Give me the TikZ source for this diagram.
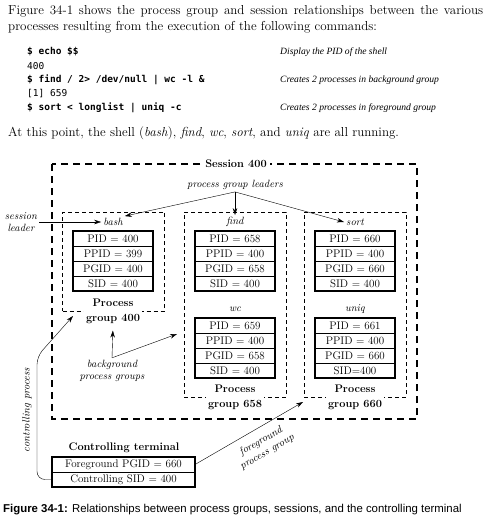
\documentclass[tikz,border=0pt]{standalone}
\usepackage{fontspec}
\usepackage{tikz}
\usetikzlibrary{positioning,arrows.meta}
\newfontfamily\cmdfont{DejaVu Sans Mono}
\newfontfamily\capfont{Liberation Sans}
\newfontfamily\notefont{Liberation Serif}

\begin{document}
\begin{tikzpicture}[x=1pt,y=-1pt,
	>={Stealth[length=7pt,width=4.5pt]},
	txt/.style={anchor=west,inner sep=0,font=\fontsize{13}{15}\selectfont},
	cmd/.style={anchor=west,inner sep=0,font=\cmdfont\bfseries\fontsize{9.5}{11}\selectfont},
	shellout/.style={anchor=west,inner sep=0,font=\cmdfont\fontsize{9.5}{11}\selectfont},
	note/.style={anchor=west,inner sep=0,font=\notefont\itshape\fontsize{9.6}{12}\selectfont},
	session/.style={draw,line width=1.2,dash pattern=on 7pt off 5pt},
	group/.style={draw,line width=0.9,dash pattern=on 4pt off 3pt,minimum width=102,inner sep=0},
	cell/.style={draw,line width=0.7,minimum width=80,minimum height=15,inner sep=0,outer sep=0,font=\fontsize{11}{13}\selectfont},
	frame/.style={line width=1.3},
	lbl/.style={font=\itshape\fontsize{10.5}{12.5}\selectfont,align=center,inner sep=2},
	grplabel/.style={fill=white,align=center,font=\bfseries\fontsize{11}{15}\selectfont,inner sep=2}]

	\fill[white] (0,0) rectangle (491,522);

	% text above the figure

	\node[txt] (intro1) at (8,11) {\makebox[475pt][s]{Figure 34-1 shows the process group and session relationships between the various}};
	\node[txt] (intro2) at (8,27) {processes resulting from the execution of the following commands:};
	\node[cmd] (cmd1) at (27,52) {\$ echo \$\$};
	\node[shellout] (cmd2) at (27,66) {400};
	\node[cmd] (cmd3) at (27,80) {\$ find / 2> /dev/null | wc -l \&};
	\node[shellout] (cmd4) at (27,94) {[1] 659};
	\node[cmd] (cmd5) at (27,108) {\$ sort < longlist | uniq -c};
	\node[note] (note1) at (280,52) {Display the PID of the shell};
	\node[note] (note3) at (280,80) {Creates 2 processes in background group};
	\node[note] (note5) at (280,108) {Creates 2 processes in foreground group};
	\node[txt] (intro3) at (8,133) {At this point, the shell (\textit{bash}), \textit{find}, \textit{wc}, \textit{sort}, and \textit{uniq} are all running.};

	% session and process groups

	\draw[session] (52,164) rectangle (417,419);
	\node[fill=white,font=\bfseries\fontsize{11}{13}\selectfont] (sess) at (236,164) {Session 400};

	\node[group,minimum height=99] (grp400) at (113.5,261.5) {};
	\node[group,minimum height=185] (grp658) at (235,304.5) {};
	\node[group,minimum height=185] (grp660) at (355,304.5) {};
	\node[grplabel] (pg400) at (113,311) {Process\\group 400};
	\node[grplabel] (pg658) at (235,397) {Process\\group 658};
	\node[grplabel] (pg660) at (355,397) {Process\\group 660};

	% processes

	\node[lbl] (bash) at (113,222) {bash};
	\node[cell] (bash1) at (113,238.5) {PID = 400};
	\node[cell,below=0pt of bash1] (bash2) {PPID = 399};
	\node[cell,below=0pt of bash2] (bash3) {PGID = 400};
	\node[cell,below=0pt of bash3] (bash4) {SID = 400};
	\draw[frame] (bash1.north west) rectangle (bash4.south east);

	\node[lbl] (find) at (235,222) {find};
	\node[cell] (find1) at (235,238.5) {PID = 658};
	\node[cell,below=0pt of find1] (find2) {PPID = 400};
	\node[cell,below=0pt of find2] (find3) {PGID = 658};
	\node[cell,below=0pt of find3] (find4) {SID = 400};
	\draw[frame] (find1.north west) rectangle (find4.south east);

	\node[lbl] (wc) at (235,309) {wc};
	\node[cell] (wc1) at (235,325.5) {PID = 659};
	\node[cell,below=0pt of wc1] (wc2) {PPID = 400};
	\node[cell,below=0pt of wc2] (wc3) {PGID = 658};
	\node[cell,below=0pt of wc3] (wc4) {SID = 400};
	\draw[frame] (wc1.north west) rectangle (wc4.south east);

	\node[lbl] (sort) at (355,222) {sort};
	\node[cell] (sort1) at (355,238.5) {PID = 660};
	\node[cell,below=0pt of sort1] (sort2) {PPID = 400};
	\node[cell,below=0pt of sort2] (sort3) {PGID = 660};
	\node[cell,below=0pt of sort3] (sort4) {SID = 400};
	\draw[frame] (sort1.north west) rectangle (sort4.south east);

	\node[lbl] (uniq) at (355,309) {uniq};
	\node[cell] (uniq1) at (355,325.5) {PID = 661};
	\node[cell,below=0pt of uniq1] (uniq2) {PPID = 400};
	\node[cell,below=0pt of uniq2] (uniq3) {PGID = 660};
	\node[cell,below=0pt of uniq3] (uniq4) {SID=400};
	\draw[frame] (uniq1.north west) rectangle (uniq4.south east);

	% controlling terminal

	\node[font=\bfseries\fontsize{11}{13}\selectfont] (cterm) at (124,448) {Controlling terminal};
	\node[cell,minimum width=143] (ctfg) at (123.5,464.5) {Foreground PGID = 660};
	\node[cell,minimum width=143,below=0pt of ctfg] (ctsid) {Controlling SID = 400};
	\draw[frame] (ctfg.north west) rectangle (ctsid.south east);

	% labels and arrows

	\node[lbl] (sleader) at (21,222) {session\\leader};
	\node[lbl] (pgl) at (235,185) {process group leaders};
	\node[lbl] (bpg) at (112,371) {background\\process groups};
	\node[lbl,rotate=90] (cproc) at (27,410) {controlling process};
	\coordinate (bgtip) at (177,334);
	\coordinate (cptip) at (73,316);
	\coordinate (fgtip) at (303,402);

	\draw[->] (sleader.east) -- (bash.west);
	\draw[->] (pgl.south) -- (bash.north east);
	\draw[->] (pgl.south) -- (find.north);
	\draw[->] (pgl.south) -- (sort.west);
	\draw[->,shorten >=5pt] (bpg.north) -- (pg400.south);
	\draw[->] (bpg.north) -- (bgtip);
	\draw[->,rounded corners=8] (ctsid.west) -- ++(-15,0) -- ++(0,-123) -- (cptip);
	\draw[->] (ctfg.east) -- node[lbl,sloped,below=6pt,pos=0.55] (fglbl) {foreground\\process group} (fgtip);

	% caption

	\node[anchor=west,inner sep=0,font=\capfont\fontsize{11.4}{13}\selectfont] (caption) at (3,510) {\textbf{Figure 34-1:} Relationships between process groups, sessions, and the controlling terminal};
\end{tikzpicture}
\end{document}
